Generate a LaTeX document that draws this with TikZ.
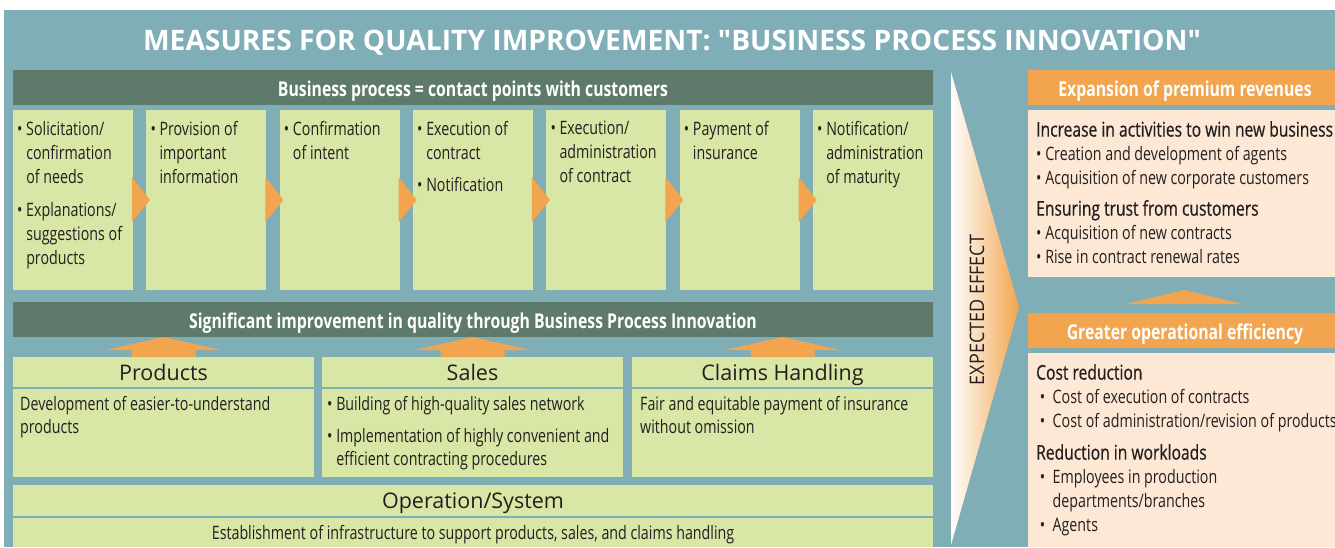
\documentclass[tikz,border=0pt]{standalone}
\usepackage{fontspec}
\setmainfont{Open Sans}
\newfontfamily\titlefont{Open Sans}
\newfontfamily\narrowfont{Open Sans}[FakeStretch=0.77]
\newfontfamily\headfont{Open Sans}[FakeStretch=0.77,FakeBold=0.5]
\newfontfamily\widefont{Open Sans}[FakeStretch=0.9]

\definecolor{tealbg}{HTML}{7FAEB6}
\definecolor{darkbar}{HTML}{5E7A6A}
\definecolor{leaf}{HTML}{D8E6A6}
\definecolor{amber}{HTML}{F2A54E}
\definecolor{peach}{HTML}{FCE8D4}
\definecolor{ink}{HTML}{231F20}

% indent for the second line of a bullet
\newcommand\contline{\hphantom{\textbullet\ }}
\newcommand\heading[1]{{\headfont\fontsize{20.3}{24}\selectfont #1}}

\begin{document}
\begin{tikzpicture}[x=1pt, y=-1pt,
    every node/.style={inner sep=0pt},
    txt/.style={anchor=north west, align=left, text=ink, execute at begin node=\strut,
        font=\narrowfont\fontsize{18.5}{23}\selectfont},
    steptxt/.style={txt, font=\narrowfont\fontsize{18.5}{24}\selectfont},
    bartxt/.style={text=white, font=\narrowfont\bfseries\fontsize{20.5}{24}\selectfont},
    boxtitle/.style={anchor=base, text=ink, font=\fontsize{21.5}{26}\selectfont}]
\useasboundingbox (0,0) rectangle (1335,547);
\fill[white] (0,0) rectangle (1335,547);
\fill[tealbg] (4,10) rectangle (1335,547);

\node[text=white, font=\titlefont\bfseries\fontsize{28.2}{32}\selectfont] (title) at (672,43)
    {MEASURES FOR QUALITY IMPROVEMENT: "BUSINESS PROCESS INNOVATION"};

% process steps
\fill[darkbar](13,70) rectangle (933,105);
\node[bartxt] (contact) at (473,91) {Business process = contact points with customers};
\foreach \i in {0,...,6}
{
    \fill[leaf]({13+\i*133.33},110) rectangle ++(120,180);
}
\foreach \i in {0,...,5}
{
    \fill[amber]({132+\i*133.33},177)--++(18,23)--++(-18,22)--cycle;
}
\node[steptxt] (s1) at (17,121) {\textbullet\ Solicitation/\\\contline confirmation\\\contline of needs\\[9pt]
    \textbullet\ Explanations/\\\contline suggestions of\\\contline products};
\node[steptxt] (s2) at (150.3,121) {\textbullet\ Provision of\\\contline important\\\contline information};
\node[steptxt] (s3) at (283.7,121) {\textbullet\ Confirmation\\\contline of intent};
\node[steptxt] (s4) at (417,121) {\textbullet\ Execution of\\\contline contract\\[8pt]\textbullet\ Notification};
\node[steptxt] (s5) at (550.3,121) {\textbullet\ Execution/\\\contline administration\\\contline of contract};
\node[steptxt] (s6) at (683.7,121) {\textbullet\ Payment of\\\contline insurance};
\node[steptxt] (s7) at (817,121) {\textbullet\ Notification/\\\contline administration\\\contline of maturity};

% functions underneath
\fill[darkbar](13,302) rectangle (933,337);
\node[bartxt] (bpi) at (473,323) {Significant improvement in quality through Business Process Innovation};
\foreach \x in {13,322,632}
{
    \fill[leaf](\x,357) rectangle ++(301,120);
    \draw[tealbg, line width=1.5pt](\x,388)--++(301,0);
    \fill[amber]({\x+150.5-58},350)--({\x+150.5},337)--({\x+150.5+58},350)--({\x+150.5+32},350)
        --({\x+150.5+32},357)--({\x+150.5-32},357)--({\x+150.5-32},350)--cycle;
}
\node[boxtitle] (prod) at (163.5,380) {Products};
\node[boxtitle] (sales) at (472.5,380) {Sales};
\node[boxtitle] (claims) at (782.5,380) {Claims Handling};
\node[txt] (prodtxt) at (20,396) {Development of easier-to-understand\\products};
\node[txt] (salestxt) at (327,396) {\textbullet\ Building of high-quality sales network\\[9pt]
    \textbullet\ Implementation of highly convenient and\\\contline efficient contracting procedures};
\node[txt] (claimstxt) at (640,396) {Fair and equitable payment of insurance\\without omission};

\fill[leaf](13,485) rectangle (933,547);
\draw[tealbg, line width=1.5pt](13,517)--(933,517);
\node[boxtitle] (ops) at (473,508.5) {Operation/System};
\node[txt, anchor=base] (opstxt) at (473,539) {Establishment of infrastructure to support products, sales, and claims handling};

% expected effect
\shade[left color=white, right color=amber](951,72)--(1019,307)--(951,545)--cycle;
\node[rotate=90, text=ink, font=\widefont\fontsize{20}{24}\selectfont] (effect) at (977,310) {EXPECTED EFFECT};

\fill[amber](1028,70) rectangle (1335,105);
\node[bartxt] (rev) at (1185,91) {Expansion of premium revenues};
\fill[peach](1028,110) rectangle (1335,277);
\node[txt, font=\narrowfont\fontsize{18.5}{24}\selectfont] (revtxt) at (1036,121)
    {\heading{Increase in activities to win new business}\\
    \textbullet\ Creation and development of agents\\
    \textbullet\ Acquisition of new corporate customers\\[7pt]
    \heading{Ensuring trust from customers}\\
    \textbullet\ Acquisition of new contracts\\
    \textbullet\ Rise in contract renewal rates};

\fill[amber](1126,304)--(1184,290)--(1243,304)--cycle;

\fill[amber](1028,313) rectangle (1335,348);
\node[bartxt] (eff) at (1185,334) {Greater operational efficiency};
\fill[peach](1028,353) rectangle (1335,547);
\node[txt, font=\narrowfont\fontsize{18.5}{24}\selectfont] (efftxt) at (1036,364)
    {\heading{Cost reduction}\\
    \ \textbullet\ \ Cost of execution of contracts\\
    \ \textbullet\ \ Cost of administration/revision of products\\[8pt]
    \heading{Reduction in workloads}\\
    \ \textbullet\ \ Employees in production\\
    \ \contline\ departments/branches\\
    \ \textbullet\ \ Agents};
\end{tikzpicture}
\end{document}
